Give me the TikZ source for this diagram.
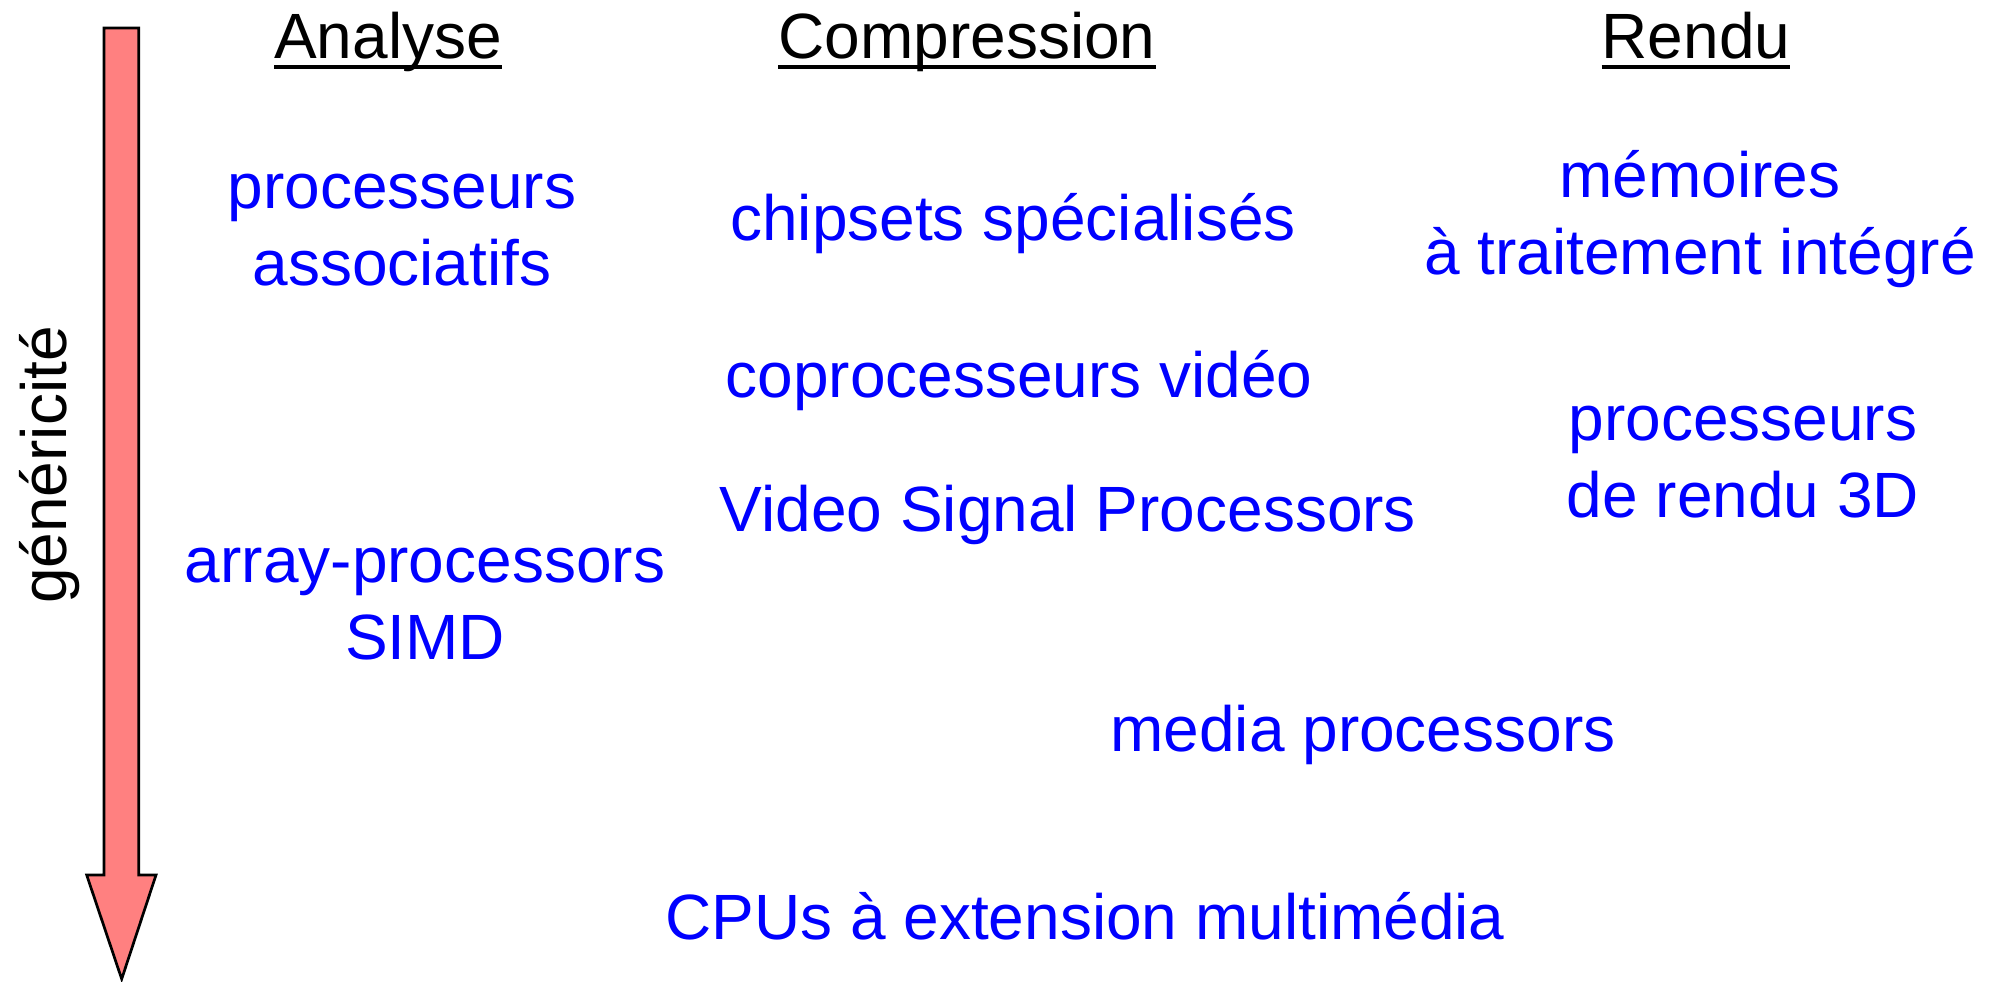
\documentclass[tikz,border=0pt]{standalone}
\usepackage{fontspec}
\setmainfont{Liberation Sans}
\definecolor{itemblue}{RGB}{0,0,255}
\definecolor{arrowfill}{RGB}{255,128,128}
\begin{document}
\begin{tikzpicture}[x=0.5pt,y=-0.5pt,
  every node/.style={inner sep=0pt, outer sep=0pt, anchor=base},
  txt/.style={font=\fontsize{32}{38.5}\selectfont},
  heading/.style={txt, text=black},
  item/.style={txt, text=itemblue, align=center},
  underl/.style={line width=2pt, line cap=butt}]
  % canvas
  \useasboundingbox (0,0) rectangle (1997,981);

  % vertical arrow (genericity axis)
  \draw[fill=arrowfill, line width=1.35pt, line join=miter]
    (104,28) -- (138.7,28) -- (138.7,875) -- (156,875) -- (121.7,979)
    -- (86.7,875) -- (104,875) -- cycle;
  \node[heading, rotate=90] (gen) at (66,465) {généricité};

  % column headings
  \node[heading] (ana) at (388,58) {Analyse};
  \node[heading] (comp) at (967,58) {Compression};
  \node[heading] (rend) at (1696,58) {Rendu};
  \foreach \h in {ana,comp,rend}
    \draw[underl] ([yshift=-9pt*0.5]\h.base west) -- ([yshift=-9pt*0.5]\h.base east);

  % items (multi-line nodes are placed by the baseline of their last line)
  \node[item] (assoc) at (402,285) {processeurs\\associatifs};
  \node[item] (chip) at (1013,240) {chipsets spécialisés};
  \node[item] (mem) at (1700,274) {mémoires\\à traitement intégré};
  \node[item] (copro) at (1019,397) {coprocesseurs vidéo};
  \node[item] (rend3d) at (1743,517) {processeurs\\de rendu 3D};
  \node[item] (vsp) at (1068,531) {Video Signal Processors};
  \node[item] (simd) at (425,659) {array-processors\\SIMD};
  \node[item] (media) at (1363,751) {media processors};
  \node[item] (cpu) at (1085,939) {CPUs à extension multimédia};
\end{tikzpicture}
\end{document}
